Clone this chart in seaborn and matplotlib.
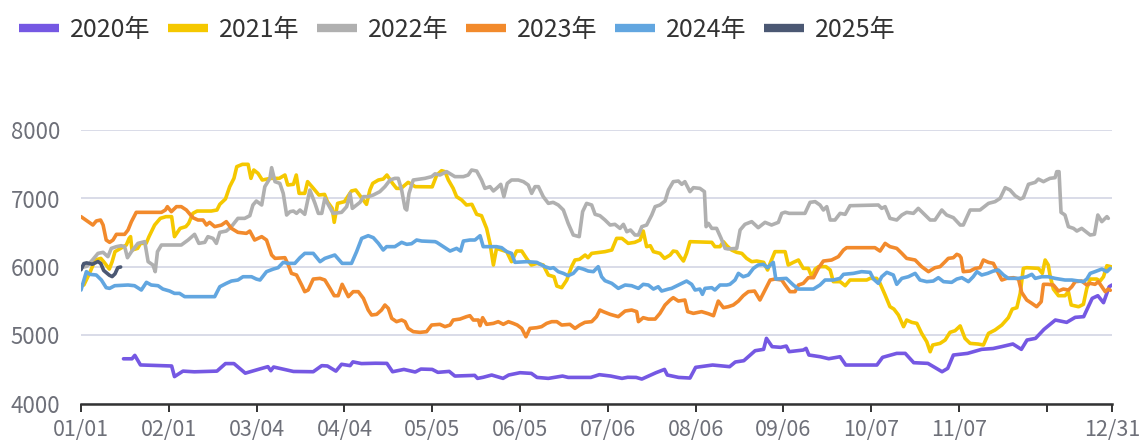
import numpy as np
import pandas as pd
import matplotlib
matplotlib.use('Agg')
import matplotlib.pyplot as plt
import seaborn as sns

# (day of year index, price) pairs
y2020 = [(15,4660),(18,4660),(19,4710),(21,4570),(32,4555),(33,4400),(36,4480),(40,4470),(48,4480),(51,4590),
         (54,4590),(58,4450),(63,4510),(66,4545),(67,4486),(68,4540),(75,4475),(82,4471),(85,4560),(87,4555),
         (90,4480),(92,4580),(95,4560),(96,4615),(99,4590),(104,4595),(108,4593),(110,4471),(114,4505),(118,4467),
         (120,4510),(124,4505),(126,4462),(130,4476),(132,4408),(139,4418),(140,4374),(142,4390),(145,4423),(149,4374),
         (151,4423),(155,4457),(159,4447),(161,4388),(165,4374),(170,4408),(172,4388),(180,4388),(183,4428),(187,4408),
         (191,4374),(193,4390),(196,4388),(198,4364),(203,4457),(206,4505),(207,4423),(211,4388),(215,4379),(217,4535),
         (223,4569),(229,4545),(231,4613),(234,4632),(238,4778),(241,4798),(242,4958),(244,4837),(247,4827),(249,4846),
         (250,4764),(255,4788),(256,4812),(257,4715),(261,4690),(264,4661),(268,4690),(270,4569),(281,4569),(283,4681),
         (288,4739),(291,4739),(294,4603),(299,4593),(302,4520),(304,4471),(306,4520),(308,4715),(313,4739),(318,4798),
         (322,4810),(325,4837),(329,4876),(332,4798),(334,4934),(337,4958),(340,5090),(344,5226),(348,5192),(351,5265),
         (354,5275),(357,5542),(359,5581),(361,5479),(363,5712),(364,5737)]

y2021 = [(0,5740),(1,5737),(3,5907),(5,6102),(7,6126),(8,6078),(10,5970),(11,6078),(12,6224),(14,6272),(16,6321),
         (17,6418),(17.5,6443),(18,6248),(20,6272),(21,6345),(23,6345),(24,6443),(26,6613),(28,6710),(30,6735),
         (32,6735),(33,6443),(35,6564),(37,6589),(38,6637),(39.5,6783),(41,6817),(46,6817),(48,6832),(49,6915),
         (51,6993),(52.5,7173),(54,7294),(55,7465),(57,7499),(59,7499),(60,7294),(61,7416),(62.5,7367),(64,7270),
         (67,7294),(70,7294),(72,7343),(73,7197),(75,7207),(76,7343),(77,7075),(79,7075),(80,7246),(82,7150),
         (84,7051),(86,7060),(87,6954),(88.7,6856),(89.4,6652),(90.6,6929),(93,6954),(95.5,7110),(97,7124),(98.5,7041),
         (100.8,6915),(102,7124),(103,7221),(105,7270),(106.7,7284),(108,7343),(110,7221),(111.4,7148),(113,7148),
         (115.5,7236),(118,7173),(124,7170),(125.6,7343),(127.3,7406),(128.5,7392),(129.7,7270),(131.4,7148),
         (132.6,7027),(134.4,6978),(136.1,6905),(138,6915),(139.7,6769),(141.4,6749),(143.2,6564),(144.4,6345),
         (145.6,6029),(146.7,6272),(148.5,6248),(150.3,6224),(152,6078),(153.8,6233),(155.6,6233),(157.3,6126),
         (159,6029),(161,6053),(163.2,6029),(165,5883),(167,5858),(168,5722),(169.7,5698),(171.5,5810),(173.2,6005),
         (174.4,6102),(176,6112),(178,6175),(179,6136),(180.3,6199),(185,6224),(187.4,6248),(189.1,6418),(191,6418),
         (193.2,6345),(195.5,6360),(197.4,6394),(198.5,6525),(199.7,6297),(201,6311),(202.1,6224),(204.4,6199),
         (206,6126),(208,6175),(209.1,6233),(210.3,6224),(211.5,6151),(212.7,6087),(213.8,6199),(215,6370),
         (222.7,6360),(223.8,6297),(225.6,6297),(226.8,6370),(228,6311),(229.7,6248),(231.5,6214),(233.3,6199),
         (235,6126),(236.8,6078),(238.6,6087),(241,6068),(242.4,5956),(243.3,6053),(245,6224),(248.6,6224),
         (249.7,6029),(251.5,6068),(253.3,6102),(255,5980),(256.8,5980),(258,5858),(259.2,5970),(260.4,6005),
         (263,6005),(264.5,5956),(265.6,5786),(268,5786),(269.8,5727),(271.5,5810),(277.4,5810),(278.6,5834),
         (280.9,5834),(282.1,5761),(283.9,5591),(285.6,5421),(287,5386),(288.6,5299),(290.4,5129),(291.5,5226),
         (293.3,5192),(295.1,5177),(296.8,5031),(298.6,4909),(299.8,4763),(300.7,4861),(303.3,4885),(305.1,4934),
         (306.8,5046),(308.6,5070),(310.4,5140),(312.1,4958),(313.9,4885),(316.8,4875),(318.6,4861),(320.4,5031),
         (322.7,5080),(325.1,5153),(327.4,5260),(328.8,5386),(330.4,5406),(331.6,5615),(332.7,5980),(333.9,5990),
         (338,5980),(339.4,5907),(340.4,6102),(341.5,6029),(342.1,5883),(343.3,5678),(345.1,5581),(347.4,5581),
         (348.6,5640),(349.6,5445),(352.2,5420),(353.9,5455),(355.1,5688),(356.3,5824),(358.6,5824),(359.8,5795),
         (361,5858),(362.2,6019),(364,6000)]

y2022 = [(0,5990),(2,6010),(4,6100),(6,6199),(7.8,6214),(9.5,6151),(10.7,6272),(12.5,6297),(14.2,6311),(15.4,6297),
         (16.4,6136),(17.8,6224),(20.1,6345),(22.5,6370),(23.7,6078),(25.4,6029),(26.2,5932),(27,6224),(28.4,6321),
         (35.4,6321),(37.8,6394),(40.1,6477),(41.6,6345),(43.7,6360),(44.8,6443),(46.6,6418),(47.8,6345),(49,6506),
         (51.3,6525),(53.1,6589),(55.4,6710),(57.8,6710),(59.6,6749),(60.7,6905),(61.9,6963),(63.8,6905),(64.9,7173),
         (66.7,7294),(67.3,7450),(68.5,7246),(70.2,7221),(71.4,7075),(72.6,6759),(73.8,6808),(75,6817),(76.1,6783),
         (77.3,6832),(79,6769),(80.8,7124),(82.6,6929),(83.8,6783),(85,6783),(86.1,7002),(87.5,6895),(89,6783),
         (92,6798),(93.8,6881),(95,7075),(95.8,6856),(97.3,6905),(98.5,6944),(99.7,7027),(101.4,7027),(103.2,7051),
         (105.5,7100),(107.3,7173),(109.1,7270),(110.8,7294),(112,7294),(113.2,7124),(114.4,6856),(115,6832),
         (115.8,7075),(117.3,7270),(121.4,7294),(123.8,7319),(125,7360),(126.7,7343),(129.1,7392),(132,7319),
         (135,7319),(136.7,7343),(137.9,7416),(139.7,7401),(141.4,7270),(142.6,7148),(144.4,7173),(145.6,7110),
         (146.7,7148),(148.2,7207),(149.3,7027),(150.5,7221),(152,7270),(154.4,7270),(156.2,7246),(157.9,7197),
         (159.1,7075),(160.3,7173),(161.5,7173),(163.2,7027),(165,6929),(166.7,6944),(168.5,6905),(170.3,6832),
         (172,6637),(173.8,6467),(175.9,6443),(177.1,6808),(178.5,6929),(180.3,6905),(181.5,6769),(183.2,6749),
         (185,6686),(186.8,6613),(188.5,6623),(190.3,6564),(191.5,6623),(192.7,6515),(194,6540),(195.6,6467),
         (196.8,6467),(198,6589),(199.7,6613),(201.5,6759),(202.7,6881),(204.4,6905),(206.2,6963),(207.4,7124),
         (209.1,7246),(210.9,7255),(212.1,7207),(213.2,7246),(215,7100),(216.2,7158),(218.5,7148),(220.1,7100),
         (220.7,6589),(221.5,6637),(222.7,6564),(224.4,6564),(226,6418),(227.4,6272),(228.5,6263),(231.5,6272),
         (232.7,6540),(234.4,6623),(236.8,6662),(239.1,6574),(241.5,6652),(243.8,6613),(246.2,6652),(247.4,6783),
         (248.6,6800),(250,6783),(255.6,6783),(257.4,6944),(259.2,6954),(260.9,6905),(262.1,6832),(263.3,6881),
         (264.5,6686),(266.2,6686),(268,6783),(269.8,6769),(271.5,6895),(281.5,6905),(282.7,6856),(283.9,6881),
         (285.6,6710),(288,6686),(289.8,6759),(291.5,6798),(293.9,6783),(295.6,6856),(297.4,6783),(299.8,6686),
         (301.5,6686),(303.9,6832),(305.6,6759),(308,6720),(310.4,6613),(311.5,6613),(313.9,6832),(317.4,6832),
         (320.4,6929),(322.7,6954),(324.5,7002),(326.3,7158),(328,7124),(329.8,7041),(331.6,6993),(332.7,7012),
         (334.5,7207),(336.9,7236),(338,7284),(339.8,7246),(340.9,7270),(342.1,7294),(343.9,7304),(344.5,7392),
         (345.3,7392),(346,6798),(347.4,6759),(348.6,6589),(350.4,6564),(351.6,6525),(353.3,6564),(355.1,6506),
         (356.3,6467),(357.8,6477),(359,6759),(360.4,6662),(362.2,6735),(362.7,6710)]

y2023 = [(0,6735),(2.5,6662),(4.2,6613),(5.4,6672),(6.9,6686),(7.8,6613),(8.9,6394),(10.1,6360),(11.3,6394),
         (12.5,6477),(15.4,6477),(16.6,6540),(17.8,6662),(19.5,6798),(28.4,6798),(29.8,6832),(30.5,6881),(31.9,6808),
         (33.7,6881),(35.4,6881),(37.2,6832),(39.5,6720),(41.3,6686),(43.1,6686),(44.3,6613),(45.4,6652),(47.2,6589),
         (49.6,6613),(51.3,6662),(53.1,6564),(55.4,6506),(58.4,6491),(59.6,6525),(61.3,6394),(63.8,6443),(65.5,6394),
         (67.3,6175),(68.5,6126),(72,6136),(73.2,6029),(74.3,5907),(76.1,5883),(77.9,5737),(79,5640),(80.2,5664),
         (82,5824),(84.4,5834),(86.1,5810),(87.9,5688),(89.4,5581),(90.8,5581),(92.2,5747),(93.2,5664),(94.4,5567),
         (96.1,5640),(97.9,5640),(99.7,5542),(101.4,5372),(102.6,5299),(104.4,5309),(106.1,5372),(107.3,5445),
         (108.5,5396),(109.7,5250),(111.4,5202),(113.2,5226),(114.4,5202),(115.5,5104),(117.3,5056),(119.7,5046),
         (122,5056),(123.8,5153),(126.7,5163),(128.5,5129),(130.3,5153),(131.4,5226),(133.8,5240),(136.1,5275),
         (137.3,5289),(138.5,5226),(140.3,5226),(140.9,5143),(141.8,5260),(143.2,5163),(145.6,5177),(147.3,5202),
         (149.1,5163),(150.9,5202),(152.6,5177),(154,5153),(155.6,5104),(157.1,4982),(158.5,5104),(160.9,5114),
         (162.6,5129),(164.4,5177),(166.2,5202),(168,5202),(169.7,5153),(172.6,5163),(174.4,5104),(176.1,5153),
         (177.9,5192),(180.3,5202),(182,5275),(183.2,5372),(184.4,5348),(186.8,5309),(189.7,5275),(192.1,5357),
         (194.4,5372),(196.2,5348),(196.8,5202),(198.5,5260),(200.3,5240),(202.7,5240),(204.4,5323),(206.2,5445),
         (208,5518),(209.1,5552),(210.9,5503),(213.2,5518),(214.2,5348),(216.2,5323),(219.1,5348),(221.5,5318),
         (223.3,5289),(225,5503),(226.8,5406),(228.5,5420),(230.3,5445),(232.1,5503),(233.8,5581),(235.6,5640),
         (237.8,5649),(239.7,5518),(241.5,5664),(243.3,5810),(245,5824),(247.4,5810),(248.6,5737),(250.3,5640),
         (252.1,5640),(253.3,5737),(255,5761),(256.8,5844),(258.6,5844),(260.3,5980),(262.1,6087),(265,6102),
         (267.4,6151),(269.2,6248),(270.3,6282),(280.3,6282),(282.1,6233),(283.9,6345),(285.6,6297),(288,6272),
         (289.8,6199),(291.5,6126),(294.5,6102),(296.8,6005),(299.2,5932),(301.5,5990),(303.3,6005),(305.1,6078),
         (306.2,6126),(308,6136),(309.2,6185),(310.1,6170),(310.7,6136),(311.5,5932),(313.9,5941),(315.7,5980),
         (317.4,5990),(318.6,6102),(320.4,6068),(322.1,6053),(323.9,5907),(325.1,5810),(326.8,5834),(329.2,5844),
         (331,5824),(332.1,5630),(333.9,5518),(335.7,5469),(337.4,5420),(339,5493),(339.8,5747),(341.5,5747),
         (343.3,5737),(345.1,5649),(346.8,5678),(348.6,5664),(349.8,5712),(351,5786),(353.3,5795),(355.1,5737),
         (356.3,5761),(358,5747),(359.2,5786),(360.4,5712),(361.6,5640),(362.7,5678),(363.4,5660)]

y2024 = [(0,5664),(1.9,5932),(3.1,5893),(5.4,5883),(7.2,5810),(8.9,5698),(10.1,5688),(11.9,5727),(16.6,5737),
         (18.9,5727),(21.3,5664),(23.1,5776),(24.8,5737),(27.2,5727),(28.9,5678),(31.3,5649),(33,5615),(34.8,5615),
         (36.6,5567),(47.2,5567),(49,5712),(51.3,5761),(53.1,5795),(55.4,5810),(57.2,5858),(60.2,5858),(61.9,5824),
         (63.2,5810),(65.5,5932),(67.9,5970),(69.6,5990),(71.4,6068),(73.2,6053),(75.5,6053),(77.3,6136),(79,6199),
         (82,6199),(84.4,6078),(86.1,6126),(89.6,6175),(92.2,6053),(95.5,6053),(97.3,6224),(99.1,6418),(101.4,6457),
         (103.2,6428),(105,6345),(106.7,6248),(107.9,6297),(110.8,6297),(113.2,6360),(115,6331),(116.7,6340),
         (118.5,6394),(120.3,6379),(125,6370),(125.6,6360),(127.9,6297),(130.3,6233),(132.6,6272),(134,6233),
         (135,6379),(137.3,6394),(139.1,6394),(140.9,6457),(142,6297),(146.7,6297),(148.5,6282),(150.3,6224),
         (152,6199),(153.2,6068),(157.3,6078),(160.9,6068),(163.8,6005),(165.6,5980),(166.8,5990),(168.5,5932),
         (170.3,5907),(172,5873),(173.8,5907),(175.6,5990),(177.3,5970),(179.1,5941),(180.9,5932),(182.6,6005),
         (183.8,5858),(185,5800),(187.4,5761),(189.7,5688),(192.1,5737),(194.4,5727),(196.8,5688),(198.5,5747),
         (200.3,5737),(202.1,5678),(203.8,5712),(205,5649),(207.4,5678),(208.5,5688),(209.7,5712),(211.5,5747),
         (213.8,5795),(215.6,5747),(216.8,5664),(218.5,5678),(219.4,5601),(220.3,5688),(222.7,5698),(223.8,5664),
         (225.6,5737),(228,5737),(229.1,5747),(230.9,5810),(232.1,5907),(233.8,5858),(235.6,5883),(237.4,5980),
         (239.1,6029),(240.9,6039),(242.4,5990),(244.4,6068),(245.3,5824),(249,5834),(251.5,5737),(253.3,5678),
         (258.6,5678),(260.9,5737),(262.7,5810),(265.6,5810),(268,5834),(269.2,5893),(272.7,5907),(275.6,5932),
         (278.6,5922),(279.8,5824),(281.5,5761),(282.7,5858),(284.5,5922),(286.8,5883),(288,5747),(289.8,5834),
         (292.1,5858),(294.5,5907),(296.2,5810),(298.6,5786),(300.9,5795),(302.7,5844),(304.5,5786),(307.4,5776),
         (309.2,5824),(311,5844),(313.3,5786),(315,5858),(316.3,5932),(318,5883),(320.1,5907),(322.1,5941),
         (323.9,5956),(325.7,5883),(327.4,5834),(331,5834),(333.9,5858),(335.7,5893),(336.9,5834),(339.2,5858),
         (341.5,5858),(343.9,5834),(347.4,5810),(349.8,5810),(353.9,5786),(355.1,5824),(356.3,5907),(358,5932),
         (360.4,5970),(362.2,5932),(363.4,5980)]

y2025 = [(0,5960),(1,6050),(2,6060),(4,6040),(6,6080),(7,6050),(8,5950),(10,5880),(11,5860),(12,5900),(13,5990),(14,6000)]

YEARS = ['2020年', '2021年', '2022年', '2023年', '2024年', '2025年']
SERIES = [y2020, y2021, y2022, y2023, y2024, y2025]
COLORS = ['#7558e3', '#f5c800', '#b0b0b0', '#f28a2c', '#62a6e0', '#4b5873']

TICK_POS = [0, 31, 62, 93, 124, 155, 186, 217, 248, 279, 310, 341, 364]
TICK_LABELS = ['01/01', '02/01', '03/04', '04/04', '05/05', '06/05', '07/06',
               '08/06', '09/06', '10/07', '11/07', '', '12/31']
Y_TICKS = [4000, 5000, 6000, 7000, 8000]

rows = []
for name, ser in zip(YEARS, SERIES):
    for d, v in ser:
        rows.append({'day': d, 'price': v, 'year': name})
df = pd.DataFrame(rows)

sns.set_style('white')
plt.rcParams['font.family'] = ['Noto Sans CJK SC', 'DejaVu Sans']

fig = plt.figure(figsize=(11.43, 4.44), dpi=100)
ax = fig.add_axes([81 / 1143, 40 / 444, 1031 / 1143, 274 / 444])

sns.lineplot(data=df, x='day', y='price', hue='year', hue_order=YEARS,
             palette=COLORS, estimator=None, sort=False, linewidth=2.6,
             legend=False, ax=ax)

ax.set_xlim(0, 364)
ax.set_ylim(4000, 8000)
ax.set_xticks(TICK_POS)
ax.set_xticklabels(TICK_LABELS)
ax.set_yticks(Y_TICKS)
ax.set_xlabel('')
ax.set_ylabel('')

for s in ['top', 'right', 'left']:
    ax.spines[s].set_visible(False)
ax.spines['bottom'].set_color('#333333')
ax.spines['bottom'].set_linewidth(1.8)
ax.spines['bottom'].set_zorder(5)

ax.yaxis.grid(True, color='#d9dce8', linewidth=1.4)
ax.xaxis.grid(False)
ax.set_axisbelow(True)
ax.tick_params(axis='x', length=6, width=1.4, color='#333333', labelsize=15.5,
               labelcolor='#6e7079', pad=5, bottom=True)
ax.tick_params(axis='y', length=0, labelsize=16, labelcolor='#6e7079', pad=15)

handles = ax.get_lines()[:len(YEARS)]
leg = fig.legend(handles, YEARS, loc='upper left', bbox_to_anchor=(19 / 1143, 1 - 17 / 444),
                 ncol=6, frameon=False, fontsize=18, handlelength=1.6,
                 handletextpad=0.45, columnspacing=0.69, borderaxespad=0, borderpad=0)
for h in leg.get_lines():
    h.set_linewidth(6)
    h.set_solid_capstyle('butt')
for t in leg.get_texts():
    t.set_color('#333333')

fig.savefig('out.png', dpi=100, facecolor='white')
